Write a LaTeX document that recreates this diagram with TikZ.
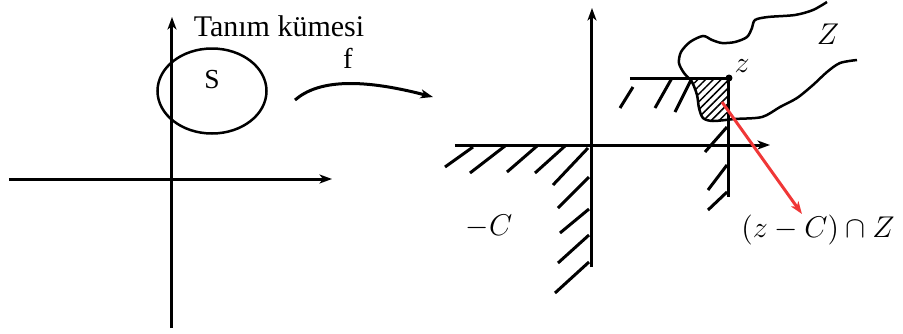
\documentclass[tikz,border=0pt]{standalone}
\usepackage{fontspec}
\setmainfont{Liberation Serif}
\usetikzlibrary{arrows.meta,patterns.meta}

\begin{document}
\begin{tikzpicture}[x=0.4pt,y=-0.4pt,>={Stealth[length=5pt,width=3.6pt,inset=1.4pt]},
  axis/.style={->,line width=1.2pt},
  hatch/.style={line width=1.2pt},
  rim/.style={line width=1pt},
  lbl/.style={font=\fontsize{12}{14}\selectfont,inner sep=0pt,anchor=base},
  mlbl/.style={font=\fontsize{12.4}{15}\selectfont,inner sep=0pt,anchor=base},
  hit/.style={->,line width=1.2pt,draw={rgb,255:red,240;green,55;blue,55}}]
\useasboundingbox (0,0) rectangle (903,334);
% domain
\draw[axis] (9,179) -- (332,179);
\draw[axis] (172,328) -- (172,17);
\draw[rim] (212,91) ellipse [x radius=54.5,y radius=42.5];
\node[lbl] (dom) at (279,36) {Tanım kümesi};
\node[lbl,font=\fontsize{11}{13}\selectfont] (set) at (212,88) {S};
\node[lbl,font=\fontsize{11.5}{13}\selectfont] (map) at (348,68) {f};
\coordinate (fa) at (295,100);
\coordinate (fb) at (433,97);
\draw[->,line width=1.2pt] (fa) .. controls (318,80) and (360,78) .. (fb);
% image side
\draw[axis] (455,145) -- (770,145);
\draw[axis] (592,267) -- (592,8);
\foreach \a/\b/\c/\d in {445/167/473/147,470/173/505/146,507/172/537/146,535/173/565/146,553/185/588/148,
  558/208/589/177,560/233/589/209,558/263/589/235,555/293/589/262}
  \draw[hatch] (\a,\b) -- (\c,\d);
\coordinate (z) at (729,78);
\draw[hatch] (630,78) -- (z) -- (729,197);
\foreach \a/\b/\c/\d in {620/108/633/87,655/108/672/78,675/112/692/78,705/152/727/127,708/190/727/165,708/210/727/192}
  \draw[hatch] (\a,\b) -- (\c,\d);
% (z-C) cap Z
\begin{scope}
\clip (660,78) rectangle (729,130);
\fill[pattern={Lines[angle=45,distance=2.2pt,line width=0.6pt]}] plot[smooth] coordinates {(681,52) (679,63) (684,73) (692,82) (697,95) (699,108) (703,118) (713,121) (735,119) (762,117) (780,107)} -- (780,40) -- cycle;
\end{scope}
\draw[rim] plot[smooth] coordinates {(827,2) (813,10) (795,15) (768,17) (755,20) (752,28) (747,37) (735,42) (722,43) (712,40) (703,36) (690,42) (681,52) (679,63) (684,73) (692,82) (697,95) (699,108) (703,118) (713,121) (735,119) (762,117) (780,107) (797,98) (813,85) (827,72) (840,63) (857,60)};
\fill (z) circle [radius=3.5];
\node[mlbl] (zl) at (742,72) {$z$};
\node[mlbl] (zset) at (828,44) {$Z$};
\node[mlbl] (negc) at (489,235) {$-C$};
\node[mlbl] (inter) at (818,237) {$(z-C)\cap Z$};
\coordinate (hs) at (722,102);
\draw[hit] (hs) -- ([xshift=-6.4pt]inter.north);
\end{tikzpicture}
\end{document}
